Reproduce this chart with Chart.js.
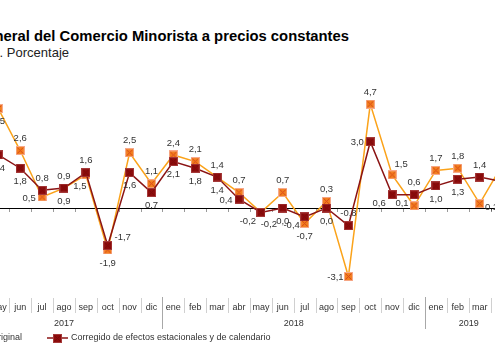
<!DOCTYPE html>
<html>
<head>
<meta charset="utf-8">
<script src="https://cdn.jsdelivr.net/npm/chart.js@4.4.0/dist/chart.umd.min.js"></script>
<style>
  html, body { margin: 0; padding: 0; width: 495px; height: 364px; overflow: hidden; background: #fff; }
  body { position: relative; font-family: "Liberation Sans", Arial, sans-serif; }
  #wrap { position: absolute; left: -41px; top: 0; width: 560px; height: 364px; }
  .titulo { position: absolute; right: 146px; top: 28px; white-space: nowrap; font-weight: bold; font-size: 14.8px; color: #000; }
  .subtitulo { position: absolute; right: 426px; top: 45px; white-space: nowrap; font-size: 13px; color: #222; }
</style>
</head>
<body>
<div class="titulo">Índice General del Comercio Minorista a precios constantes</div>
<div class="subtitulo">Tasa de variación anual. Porcentaje</div>
<div id="wrap"><canvas id="grafico" width="560" height="364"></canvas></div>

<script>
// datos (abr 2017 - abr 2019)
const meses = ['abr', 'may', 'jun', 'jul', 'ago', 'sep', 'oct', 'nov', 'dic',
               'ene', 'feb', 'mar', 'abr', 'may', 'jun', 'jul', 'ago', 'sep', 'oct', 'nov', 'dic',
               'ene', 'feb', 'mar', 'abr'];
const anios = ['2017', '2018', '2019'];
const mesesPorAnio = [9, 12, 4];

const serieOriginal = [null, 4.5, 2.6, 0.5, 0.9, 1.5, -1.9, 2.5, 1.1,
                       2.4, 2.1, 1.4, 0.7, -0.2, 0.7, -0.7, 0.3, -3.1, 4.7, 1.5, 0.1,
                       1.7, 1.8, 0.2, 1.9];
const serieCorregida = [null, 2.4, 1.8, 0.8, 0.9, 1.6, -1.7, 1.6, 0.7,
                        2.1, 1.8, 1.4, 0.4, -0.2, 0.0, -0.4, 0.0, -0.8, 3.0, 0.6, 0.6,
                        1.0, 1.3, 1.4, 1.2];

const NARANJA = '#FBA31A';
const GRANATE = '#8B1414';
const FUENTE = '"Liberation Sans", Arial, sans-serif';

// posición de etiquetas que no siguen la regla (arriba el mayor, abajo el menor)
const posOriginal = { 1: 'b', 3: 'l', 5: 'bl', 13: 'br', 17: 'l', 19: 'ar', 20: 'l2', 23: 'r' };
const posCorregida = { 6: 'ru', 12: 'l', 13: 'bll', 15: 'bll', 18: 'l', 19: 'bll' };
const desplazamientos = {
    a: [0, -12], b: [0, 13], l: [-13, 1], l2: [-12, -2], r: [12, 4], ru: [15, -8],
    bl: [-6, 12], bll: [-13, 9], br: [8, 12], ar: [9, -10]
};

// marcadores cuadrados
function crearMarcador(relleno, borde, cruz) {
    const c = document.createElement('canvas');
    c.width = 9; c.height = 9;
    const g = c.getContext('2d');
    g.fillStyle = borde;
    g.fillRect(0, 0, 9, 9);
    g.fillStyle = relleno;
    g.fillRect(1, 1, 7, 7);
    g.strokeStyle = cruz;
    g.lineWidth = 1;
    g.beginPath();
    g.moveTo(1.5, 1.5); g.lineTo(7.5, 7.5);
    g.moveTo(7.5, 1.5); g.lineTo(1.5, 7.5);
    g.stroke();
    return c;
}
const marcaNaranja = crearMarcador('#F2801E', '#F7A98A', '#D9461A');
const marcaGranate = crearMarcador('#8E0C0C', '#A53A3A', '#7A0A0A');

function etiqueta(v) {
    return v.toFixed(1).replace('.', ',');
}

const decoracion = {
    id: 'decoracion',
    beforeDatasetsDraw(chart) {
        const ctx = chart.ctx;
        const x = chart.scales.x;
        const y = chart.scales.y;
        const area = chart.chartArea;
        const y0 = y.getPixelForValue(0);
        const ancho = x.getPixelForValue(1) - x.getPixelForValue(0);
        ctx.save();
        // eje cero y marcas
        ctx.strokeStyle = '#9a9a9a';
        ctx.lineWidth = 1;
        ctx.beginPath();
        for (let i = 0; i <= meses.length; i++) {
            const bx = Math.round(area.left + i * ancho) + 0.5;
            ctx.moveTo(bx, y0); ctx.lineTo(bx, y0 + 4);
        }
        ctx.stroke();
        ctx.strokeStyle = '#000';
        ctx.beginPath();
        ctx.moveTo(area.left, Math.round(y0) + 0.5);
        ctx.lineTo(area.right, Math.round(y0) + 0.5);
        ctx.stroke();

        // meses
        ctx.font = '9px ' + FUENTE;
        ctx.fillStyle = '#333';
        ctx.textAlign = 'center';
        ctx.textBaseline = 'middle';
        meses.forEach((m, i) => ctx.fillText(m, x.getPixelForValue(i), 308));
        ctx.strokeStyle = '#d0d0d0';
        ctx.beginPath();
        for (let i = 0; i <= meses.length; i++) {
            const bx = Math.round(area.left + i * ancho) + 0.5;
            ctx.moveTo(bx, 298); ctx.lineTo(bx, 313);
        }
        ctx.stroke();

        // años
        let inicio = 0;
        ctx.strokeStyle = '#a8a8a8';
        anios.forEach((a, k) => {
            const fin = inicio + mesesPorAnio[k];
            const xi = area.left + inicio * ancho;
            const xf = area.left + fin * ancho;
            ctx.fillText(a, (xi + xf) / 2, 324);
            if (k > 0) {
                ctx.beginPath();
                ctx.moveTo(Math.round(xi) + 0.5, 297);
                ctx.lineTo(Math.round(xi) + 0.5, 329);
                ctx.stroke();
            }
            inicio = fin;
        });

        // leyenda
        const ly = 338;
        ctx.textAlign = 'right';
        ctx.fillText('Original', 22 + 41, ly);
        ctx.lineWidth = 1.5;
        ctx.strokeStyle = NARANJA;
        ctx.beginPath(); ctx.moveTo(-30 + 41, ly); ctx.lineTo(-10 + 41, ly); ctx.stroke();
        ctx.strokeStyle = GRANATE;
        ctx.beginPath(); ctx.moveTo(47 + 41, ly); ctx.lineTo(68 + 41, ly); ctx.stroke();
        ctx.drawImage(marcaGranate, 53 + 41, ly - 4);
        ctx.textAlign = 'left';
        ctx.fillText('Corregido de efectos estacionales y de calendario', 71 + 41, ly);
        ctx.restore();
    },
    afterDatasetsDraw(chart) {
        const ctx = chart.ctx;
        const x = chart.scales.x;
        const y = chart.scales.y;
        ctx.save();
        ctx.font = '9.5px ' + FUENTE;
        ctx.fillStyle = '#333';
        ctx.textAlign = 'center';
        ctx.textBaseline = 'middle';
        for (let i = 0; i < meses.length; i++) {
            const o = serieOriginal[i];
            const c = serieCorregida[i];
            if (o === null || c === null) continue;
            const px = x.getPixelForValue(i);
            const pO = posOriginal[i] || (o >= c ? 'a' : 'b');
            const pC = posCorregida[i] || (o >= c ? 'b' : 'a');
            const dO = desplazamientos[pO];
            const dC = desplazamientos[pC];
            ctx.fillText(etiqueta(o), px + dO[0], y.getPixelForValue(o) + dO[1]);
            ctx.fillText(etiqueta(c), px + dC[0], y.getPixelForValue(c) + dC[1]);
        }
        ctx.restore();
    }
};

new Chart(document.getElementById('grafico'), {
    type: 'line',
    data: {
        labels: meses,
        datasets: [
            {
                label: 'Original',
                data: serieOriginal,
                borderColor: NARANJA,
                borderWidth: 1.5,
                pointStyle: marcaNaranja,
                pointRadius: 5,
                tension: 0,
                order: 1
            },
            {
                label: 'Corregido de efectos estacionales y de calendario',
                data: serieCorregida,
                borderColor: GRANATE,
                borderWidth: 1.5,
                pointStyle: marcaGranate,
                pointRadius: 5,
                tension: 0,
                order: 0
            }
        ]
    },
    options: {
        responsive: false,
        animation: false,
        devicePixelRatio: 1,
        layout: { padding: { left: 5, right: 5, top: 97.5, bottom: 67.6 } },
        scales: {
            x: { display: false, offset: true },
            y: { display: false, min: -4, max: 5 }
        },
        plugins: {
            legend: { display: false },
            tooltip: { enabled: false }
        }
    },
    plugins: [decoracion]
});
</script>
</body>
</html>
